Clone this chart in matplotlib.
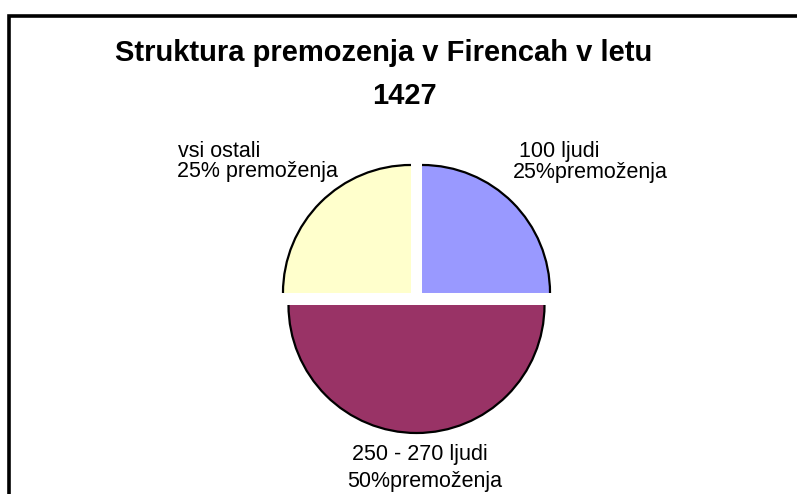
import matplotlib
matplotlib.use("Agg")
import matplotlib.pyplot as plt
from matplotlib.patches import Arc, Rectangle

plt.rcParams['font.family'] = ['Liberation Sans', 'DejaVu Sans']

title_line1 = "Struktura premozenja v Firencah v letu"
title_line2 = "1427"
categories = ["100 ljudi\n25%premoženja", "250 - 270 ljudi\n50%premoženja", "vsi ostali\n25% premoženja"]
shares = [25, 50, 25]
colors = ["#9999FF", "#993366", "#FFFFCC"]
explode = [7.8, 6.5, 7.8]   # offsets in pixel units

W, H = 797, 494
fig = plt.figure(figsize=(W / 100, H / 100), dpi=100)
ax = fig.add_axes([0, 0, 1, 1])


def Y(y):
    return H - y


wedges, _ = ax.pie(shares, colors=colors, explode=explode, startangle=90,
                   counterclock=False, radius=128, center=(416.5, Y(298.5)),
                   frame=True, wedgeprops=dict(linewidth=0))
ax.set_xlim(0, W)
ax.set_ylim(0, H)
ax.set_aspect('equal')
ax.axis('off')

# outline only on the arcs
for w in wedges:
    ax.add_patch(Arc(w.center, 2 * w.r, 2 * w.r, theta1=w.theta1, theta2=w.theta2,
                     color='black', lw=1.6, zorder=3))

# frame
ax.add_patch(Rectangle((9, Y(15.5) - 600), 900, 600, fill=False, edgecolor='black',
                       lw=2.6, zorder=5))

# title
ax.text(383.5, Y(60.5), title_line1, ha='center', va='baseline', fontsize=21,
        fontweight='bold')
ax.text(404.5, Y(104), title_line2, ha='center', va='baseline', fontsize=21,
        fontweight='bold')

# labels
lab_pos = [([157, 178], [519, 513]),
           ([460, 487], [352, 347]),
           ([157, 177], [178, 177])]
for cat, (ys, xs) in zip(categories, lab_pos):
    for line, y, x in zip(cat.split("\n"), ys, xs):
        ax.text(x, Y(y), line, ha='left', va='baseline', fontsize=15.5)

fig.savefig("out.png", dpi=100)
